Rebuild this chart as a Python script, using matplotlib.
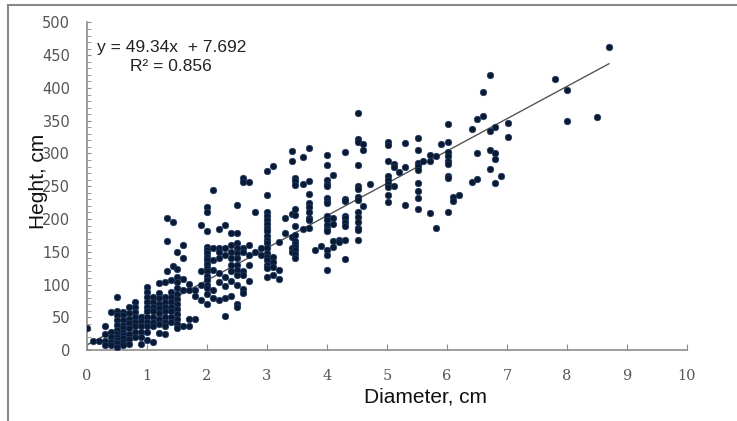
import matplotlib
matplotlib.use('Agg')
import matplotlib.pyplot as plt
from matplotlib.lines import Line2D
from matplotlib.ticker import MultipleLocator
import numpy as np

# diameters (cm) of each column of points, and the heights (cm) in that column
col_diameter = [
    0.0, 0.1, 0.2, 0.3, 0.4, 0.5, 0.6, 0.7, 0.8, 0.9,
    1.0, 1.1, 1.2, 1.3, 1.33, 1.4, 1.43, 1.5, 1.6, 1.7, 1.8, 1.9,
    2.0, 2.1, 2.2, 2.3, 2.4, 2.5, 2.6, 2.7, 2.8, 2.9,
    3.0, 3.1, 3.2, 3.3, 3.42, 3.47, 3.6, 3.7, 3.8, 3.9,
    4.0, 4.1, 4.2, 4.3, 4.52, 4.6, 4.72,
    5.02, 5.12, 5.2, 5.3, 5.51, 5.6, 5.72, 5.82, 5.9,
    6.02, 6.1, 6.2, 6.41, 6.5, 6.6, 6.72, 6.8, 6.9, 7.02,
    7.8, 8.0, 8.5, 8.7,
]
col_height = [
    [34], [14], [14], [36, 25, 14, 8], [58, 28, 20, 13, 8],
    [81, 60, 53, 46, 38, 31, 25, 20, 15, 10, 5],
    [58, 53, 46, 38, 33, 28, 23, 18, 13, 8],
    [66, 56, 48, 41, 33, 25, 17, 9],
    [74, 66, 58, 51, 43, 36, 28, 20],
    [51, 44, 36, 28, 20, 9],
    [96, 89, 81, 74, 66, 59, 51, 43, 36, 28, 15],
    [81, 74, 66, 59, 51, 43, 36, 13],
    [103, 87, 79, 71, 64, 56, 48, 40, 26],
    [104, 81, 74, 66, 59, 51, 43, 36, 25],
    [202, 166, 121],
    [107, 89, 81, 74, 66, 59, 51, 43],
    [196, 128],
    [149, 124, 112, 104, 94, 86, 78, 71, 63, 55, 47, 40, 33],
    [160, 141, 109, 92, 36],
    [101, 92, 48, 36],
    [92, 82, 48],
    [191, 121, 99, 77],
    [219, 211, 181, 158, 153, 148, 142, 137, 131, 125, 120, 113, 107, 99, 94, 86, 70],
    [244, 155, 137, 122, 92, 79],
    [184, 155, 150, 140, 118, 104, 77],
    [191, 155, 145, 112, 98, 79, 52],
    [178, 160, 150, 140, 130, 120, 105, 82],
    [222, 178, 163, 155, 148, 140, 130, 122, 115, 100, 70, 65],
    [262, 257, 155, 150, 120, 114, 93, 87],
    [257, 160, 145, 130, 105],
    [210, 150],
    [155, 145],
    [273, 237, 211, 205, 198, 193, 187, 181, 174, 168, 163, 155, 148, 142, 137, 130, 125, 111],
    [281, 142, 135, 127, 115],
    [165, 122, 108],
    [202, 178],
    [304, 289, 208, 173, 155, 150],
    [263, 258, 252, 216, 206, 189, 176, 167, 162, 158, 152, 147, 140],
    [295, 253, 184],
    [309, 258, 238, 225, 218, 210, 202, 198, 186],
    [153], [159],
    [297, 282, 260, 254, 251, 232, 227, 224, 205, 198, 191, 185, 181, 153, 145, 122],
    [267, 201, 193, 166, 158],
    [168, 165],
    [302, 231, 227, 205, 201, 195, 190, 168, 139],
    [362, 322, 318, 282, 250, 246, 233, 229, 211, 203, 195, 187, 183, 168],
    [314, 305, 220],
    [254],
    [318, 313, 288, 265, 260, 254, 249, 237, 226],
    [284, 279, 250],
    [272],
    [316, 279, 221],
    [323, 305, 286, 281, 275, 255, 243, 232, 215],
    [289],
    [298, 289, 209],
    [296, 186],
    [314],
    [345, 318, 302, 296, 289, 284, 265, 263, 211],
    [233, 228],
    [237],
    [338, 256],
    [352, 300, 261],
    [394, 357],
    [420, 335, 305, 277],
    [340, 300, 292, 255],
    [266],
    [346, 325],
    [414], [397, 349], [355], [462],
]

slope = 49.34
intercept = 7.692
r_squared = 0.856
fit_range = [0.0, 8.7]

diameter = []
height = []
for d, hs in zip(col_diameter, col_height):
    for h in hs:
        diameter.append(d)
        height.append(h)

fig = plt.figure(figsize=(7.37, 4.21), dpi=100)
fig.patch.set_facecolor('white')
ax = fig.add_axes([0.118, 0.1686, 0.814, 0.778])

ax.scatter(diameter, height, s=22, color='#0b1a30', edgecolors='#1d3a66',
           linewidths=0.5, zorder=3)

fx = np.array(fit_range)
ax.plot(fx, slope * fx + intercept, color='#555555', lw=1.0, zorder=2)

ax.set_xlim(0, 10)
ax.set_ylim(0, 500)
ax.xaxis.set_major_locator(MultipleLocator(1))
ax.yaxis.set_major_locator(MultipleLocator(50))
ax.yaxis.set_minor_locator(MultipleLocator(10))

for side in ['top', 'right']:
    ax.spines[side].set_visible(False)
for side in ['left', 'bottom']:
    ax.spines[side].set_color('#8c8c8c')
    ax.spines[side].set_linewidth(1.2)

ax.tick_params(axis='x', direction='in', length=4, color='#8c8c8c', pad=14,
               labelsize=10.5, labelcolor='#555555')
ax.tick_params(axis='y', which='both', direction='in', length=3, color='#8c8c8c',
               pad=12, labelsize=10.5, labelcolor='#555555')
for lbl in ax.get_xticklabels():
    lbl.set_family('DejaVu Serif')

fig.text(0.577, 0.057, 'Diameter, cm', ha='center', va='center',
         fontsize=15, family='Liberation Sans', color='#111111')
fig.text(0.052, 0.57, 'Heght, cm', ha='center', va='center', rotation=90,
         fontsize=15, family='Liberation Sans', color='#111111')

ax.text(0.016, 0.925, f'y = {slope}x  + {intercept}', transform=ax.transAxes,
        fontsize=12.5, family='Liberation Sans', color='#222222', ha='left', va='center')
ax.text(0.072, 0.867, f'R\u00b2 = {r_squared}', transform=ax.transAxes,
        fontsize=12.5, family='Liberation Sans', color='#222222', ha='left', va='center')

# outer frame (top and left edges visible in the original)
fig.add_artist(Line2D([8 / 737, 1.0], [1 - 5 / 421, 1 - 5 / 421], color='#888888', lw=1.5))
fig.add_artist(Line2D([8 / 737, 8 / 737], [0.0, 1 - 5 / 421], color='#888888', lw=1.5))

fig.savefig('out.png', dpi=100)
